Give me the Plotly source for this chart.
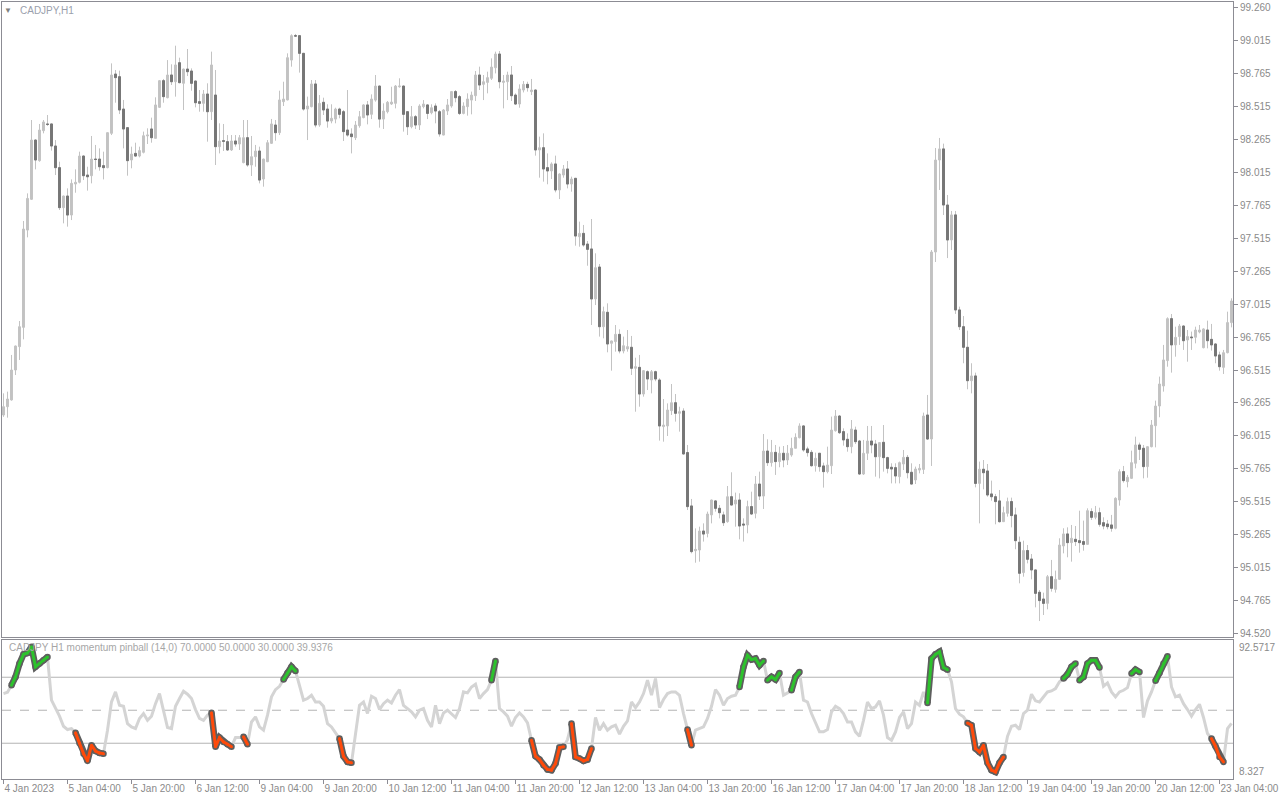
import pandas as pd
import plotly.graph_objects as go

# ---------------- time axis (H1 forex bars, weekends closed) ----------------
all_hours = pd.date_range("2023-01-04 12:00", "2023-01-23 07:00", freq="h")
bar_times = [t for t in all_hours if t.weekday() < 5]
categories = [t.strftime("%Y-%m-%d %H:%M") for t in bar_times]

tick_labels = ["4 Jan 2023", "5 Jan 04:00", "5 Jan 20:00", "6 Jan 12:00", "9 Jan 04:00",
               "9 Jan 20:00", "10 Jan 12:00", "11 Jan 04:00", "11 Jan 20:00", "12 Jan 12:00",
               "13 Jan 04:00", "13 Jan 20:00", "16 Jan 12:00", "17 Jan 04:00", "17 Jan 20:00",
               "18 Jan 12:00", "19 Jan 04:00", "19 Jan 20:00", "20 Jan 12:00", "23 Jan 04:00"]
tick_categories = categories[::16][:len(tick_labels)]

price_ticks = [99.260, 99.015, 98.765, 98.515, 98.265, 98.015, 97.765, 97.515, 97.265, 97.015,
               96.765, 96.515, 96.265, 96.015, 95.765, 95.515, 95.265, 95.015, 94.765, 94.520]

# ---------------- CADJPY H1 OHLC ----------------
open_ = [
 96.174, 96.237, 96.288, 96.515, 96.692, 96.838, 97.575, 97.808, 98.257, 98.101,
 98.328, 98.379, 98.379, 98.212, 98.048, 97.745, 97.833, 97.689, 97.924, 97.937,
 98.136, 97.992, 97.987, 98.113, 98.113, 98.063, 98.048, 98.308, 98.757, 98.737,
 98.492, 98.351, 98.106, 98.156, 98.136, 98.164, 98.288, 98.341, 98.270, 98.505,
 98.707, 98.578, 98.750, 98.699, 98.843, 98.687, 98.795, 98.780, 98.704, 98.548,
 98.535, 98.606, 98.472, 98.598, 98.207, 98.252, 98.245, 98.182, 98.250, 98.227,
 98.086, 98.275, 98.068, 98.131, 98.174, 97.962, 98.093, 98.232, 98.371, 98.313,
 98.548, 98.561, 98.863, 99.048, 99.048, 98.914, 98.492, 98.510, 98.682, 98.371,
 98.543, 98.492, 98.401, 98.416, 98.492, 98.472, 98.333, 98.303, 98.275, 98.366,
 98.427, 98.523, 98.452, 98.560, 98.666, 98.416, 98.472, 98.530, 98.535, 98.661,
 98.666, 98.472, 98.358, 98.434, 98.371, 98.510, 98.523, 98.464, 98.515, 98.472,
 98.295, 98.477, 98.515, 98.624, 98.586, 98.459, 98.510, 98.560, 98.593, 98.750,
 98.679, 98.694, 98.725, 98.805, 98.909, 98.694, 98.699, 98.750, 98.598, 98.530,
 98.636, 98.679, 98.624, 98.636, 98.182, 98.199, 98.048, 98.023, 98.076, 97.879,
 97.992, 98.038, 97.924, 97.967, 97.525, 97.550, 97.469, 97.432, 97.053, 97.295,
 96.843, 96.952, 96.717, 96.730, 96.785, 96.659, 96.674, 96.687, 96.528, 96.535,
 96.333, 96.502, 96.439, 96.502, 96.439, 96.086, 96.091, 96.207, 96.267, 96.187,
 96.204, 95.889, 95.485, 95.146, 95.151, 95.295, 95.277, 95.417, 95.523, 95.467,
 95.417, 95.366, 95.555, 95.500, 95.530, 95.348, 95.341, 95.480, 95.429, 95.651,
 95.560, 95.901, 95.813, 95.891, 95.821, 95.884, 95.833, 95.871, 95.922, 96.002,
 96.091, 95.917, 95.891, 95.790, 95.884, 95.788, 95.745, 95.790, 96.055, 96.166,
 96.048, 95.990, 95.934, 96.060, 95.977, 95.727, 95.884, 95.977, 95.954, 95.858,
 95.967, 95.851, 95.778, 95.775, 95.707, 95.803, 95.853, 95.740, 95.682, 95.757,
 95.762, 96.174, 95.992, 97.409, 98.106, 98.190, 97.765, 97.500, 97.690, 96.970,
 96.843, 96.687, 96.434, 96.470, 95.656, 95.763, 95.750, 95.576, 95.555, 95.523,
 95.366, 95.429, 95.518, 95.417, 95.210, 94.980, 95.147, 95.083, 95.000, 94.831,
 94.780, 94.747, 94.949, 94.853, 94.929, 95.182, 95.273, 95.207, 95.232, 95.222,
 95.215, 95.194, 95.442, 95.399, 95.434, 95.358, 95.348, 95.341, 95.316, 95.530,
 95.745, 95.669, 95.694, 95.808, 95.947, 95.922, 95.783, 95.934, 96.093, 96.242,
 96.394, 96.586, 96.904, 96.705, 96.768, 96.848, 96.742, 96.765, 96.763, 96.803,
 96.684, 96.818, 96.747, 96.712, 96.629, 96.535, 96.646, 96.874]

high = [
 96.338, 96.351, 96.629, 96.700, 96.886, 97.644, 97.853, 98.409, 98.262, 98.379,
 98.409, 98.447, 98.382, 98.257, 98.093, 97.836, 97.891, 97.959, 98.035, 98.169,
 98.140, 98.055, 98.288, 98.220, 98.194, 98.169, 98.316, 98.838, 98.788, 98.783,
 98.561, 98.354, 98.207, 98.237, 98.207, 98.321, 98.346, 98.427, 98.581, 98.712,
 98.720, 98.863, 98.831, 98.972, 98.881, 98.798, 98.947, 98.800, 98.707, 98.636,
 98.636, 98.687, 98.927, 98.788, 98.384, 98.379, 98.295, 98.295, 98.295, 98.295,
 98.409, 98.409, 98.288, 98.220, 98.207, 98.116, 98.257, 98.417, 98.409, 98.631,
 98.699, 98.914, 99.058, 99.061, 99.050, 98.917, 98.586, 98.712, 98.712, 98.598,
 98.578, 98.528, 98.528, 98.502, 98.502, 98.485, 98.636, 98.346, 98.401, 98.477,
 98.528, 98.553, 98.603, 98.750, 98.670, 98.535, 98.553, 98.661, 98.674, 98.725,
 98.670, 98.475, 98.515, 98.447, 98.528, 98.560, 98.528, 98.528, 98.535, 98.485,
 98.492, 98.568, 98.629, 98.636, 98.598, 98.543, 98.611, 98.624, 98.780, 98.813,
 98.750, 98.775, 98.876, 98.927, 98.932, 98.750, 98.775, 98.818, 98.611, 98.679,
 98.704, 98.699, 98.720, 98.640, 98.283, 98.308, 98.156, 98.088, 98.139, 98.005,
 98.068, 98.098, 97.980, 97.970, 97.639, 97.614, 97.492, 97.659, 97.399, 97.318,
 96.995, 97.020, 96.738, 96.856, 96.823, 96.768, 96.818, 96.773, 96.608, 96.629,
 96.515, 96.512, 96.515, 96.510, 96.452, 96.295, 96.262, 96.409, 96.333, 96.237,
 96.225, 95.947, 95.538, 95.315, 95.328, 95.353, 95.442, 95.533, 95.530, 95.492,
 95.442, 95.636, 95.740, 95.586, 95.581, 95.391, 95.525, 95.593, 95.712, 95.745,
 96.030, 95.990, 95.985, 95.947, 95.934, 95.939, 95.947, 96.002, 96.035, 96.111,
 96.098, 95.934, 95.909, 95.889, 95.886, 95.813, 95.934, 96.162, 96.212, 96.174,
 96.073, 96.035, 96.136, 96.086, 95.985, 95.985, 96.091, 96.091, 95.985, 95.967,
 96.098, 95.858, 95.808, 95.808, 95.821, 95.909, 95.871, 95.808, 95.783, 95.803,
 96.192, 96.326, 97.424, 98.197, 98.273, 98.230, 97.841, 97.720, 97.720, 96.995,
 96.924, 96.813, 96.566, 96.495, 95.821, 95.833, 95.803, 95.677, 95.576, 95.606,
 95.480, 95.548, 95.548, 95.472, 95.253, 95.222, 95.189, 95.121, 95.003, 94.848,
 94.828, 94.962, 95.076, 94.995, 95.240, 95.316, 95.323, 95.341, 95.333, 95.449,
 95.374, 95.467, 95.467, 95.485, 95.472, 95.399, 95.379, 95.417, 95.550, 95.763,
 95.788, 95.720, 95.904, 96.010, 95.965, 95.947, 95.937, 96.136, 96.283, 96.465,
 96.705, 96.914, 96.939, 96.843, 96.863, 96.853, 96.818, 96.806, 96.843, 96.856,
 96.831, 96.889, 96.864, 96.717, 96.654, 96.667, 96.957, 97.058]

low = [
 96.160, 96.154, 96.283, 96.477, 96.591, 96.747, 97.520, 97.803, 98.035, 98.093,
 98.308, 98.364, 98.177, 97.992, 97.727, 97.626, 97.601, 97.651, 97.858, 97.929,
 97.954, 97.874, 97.929, 98.035, 98.025, 97.959, 98.043, 98.295, 98.540, 98.454,
 98.194, 97.987, 98.043, 98.131, 98.126, 98.156, 98.227, 98.237, 98.268, 98.500,
 98.540, 98.573, 98.674, 98.586, 98.687, 98.485, 98.742, 98.631, 98.505, 98.472,
 98.472, 98.245, 98.409, 98.068, 98.156, 98.174, 98.174, 98.174, 98.207, 98.182,
 98.081, 98.055, 97.985, 98.055, 97.929, 97.904, 98.090, 98.227, 98.252, 98.295,
 98.515, 98.558, 98.813, 99.040, 98.768, 98.480, 98.257, 98.505, 98.353, 98.358,
 98.447, 98.351, 98.384, 98.384, 98.422, 98.250, 98.283, 98.156, 98.257, 98.351,
 98.422, 98.376, 98.416, 98.548, 98.351, 98.341, 98.459, 98.523, 98.497, 98.654,
 98.321, 98.295, 98.346, 98.341, 98.333, 98.497, 98.416, 98.452, 98.384, 98.283,
 98.293, 98.447, 98.502, 98.543, 98.447, 98.452, 98.442, 98.452, 98.553, 98.636,
 98.560, 98.611, 98.712, 98.762, 98.649, 98.497, 98.560, 98.553, 98.523, 98.502,
 98.618, 98.624, 98.598, 98.139, 97.972, 97.942, 97.922, 97.962, 97.861, 97.810,
 97.972, 97.891, 97.866, 97.457, 97.449, 97.449, 97.305, 96.856, 97.007, 96.768,
 96.755, 96.649, 96.510, 96.654, 96.641, 96.641, 96.654, 96.477, 96.199, 96.237,
 96.313, 96.363, 96.338, 96.430, 95.980, 95.972, 96.015, 96.174, 96.124, 96.048,
 95.874, 95.454, 95.126, 95.055, 95.063, 95.215, 95.247, 95.353, 95.442, 95.391,
 95.333, 95.358, 95.490, 95.328, 95.232, 95.215, 95.278, 95.417, 95.391, 95.530,
 95.462, 95.788, 95.783, 95.720, 95.778, 95.778, 95.795, 95.858, 95.920, 95.997,
 95.896, 95.859, 95.783, 95.745, 95.745, 95.624, 95.732, 95.727, 96.048, 96.030,
 95.942, 95.896, 95.884, 95.954, 95.720, 95.720, 95.833, 95.884, 95.707, 95.694,
 95.745, 95.732, 95.656, 95.656, 95.656, 95.757, 95.694, 95.648, 95.651, 95.732,
 95.727, 95.985, 95.788, 97.333, 97.879, 97.689, 97.363, 97.424, 96.940, 96.818,
 96.566, 96.369, 96.338, 95.626, 95.353, 95.611, 95.555, 95.525, 95.346, 95.359,
 95.363, 95.404, 95.323, 95.157, 94.899, 94.949, 95.050, 94.929, 94.717, 94.613,
 94.659, 94.702, 94.836, 94.828, 94.924, 95.126, 95.096, 95.063, 95.182, 95.131,
 95.146, 95.189, 95.379, 95.384, 95.328, 95.308, 95.308, 95.290, 95.308, 95.487,
 95.662, 95.626, 95.689, 95.770, 95.833, 95.694, 95.699, 95.929, 95.929, 96.157,
 96.351, 96.540, 96.495, 96.616, 96.705, 96.667, 96.578, 96.667, 96.717, 96.793,
 96.679, 96.679, 96.662, 96.566, 96.510, 96.485, 96.641, 96.838]

close = [
 96.237, 96.295, 96.515, 96.697, 96.843, 97.583, 97.815, 98.257, 98.106, 98.333,
 98.394, 98.375, 98.212, 98.048, 97.745, 97.833, 97.689, 97.929, 97.937, 98.136,
 97.987, 97.979, 98.113, 98.110, 98.055, 98.048, 98.313, 98.750, 98.730, 98.485,
 98.341, 98.101, 98.151, 98.136, 98.177, 98.290, 98.295, 98.275, 98.523, 98.707,
 98.586, 98.750, 98.699, 98.826, 98.692, 98.795, 98.775, 98.687, 98.540, 98.535,
 98.606, 98.472, 98.826, 98.207, 98.250, 98.248, 98.182, 98.250, 98.227, 98.275,
 98.275, 98.068, 98.131, 98.174, 97.954, 98.113, 98.237, 98.379, 98.313, 98.561,
 98.568, 98.881, 99.048, 99.045, 98.914, 98.492, 98.515, 98.682, 98.371, 98.535,
 98.485, 98.401, 98.422, 98.492, 98.452, 98.321, 98.295, 98.283, 98.371, 98.434,
 98.523, 98.447, 98.568, 98.666, 98.416, 98.477, 98.543, 98.545, 98.666, 98.666,
 98.452, 98.358, 98.434, 98.371, 98.515, 98.530, 98.459, 98.502, 98.477, 98.303,
 98.485, 98.523, 98.624, 98.578, 98.459, 98.515, 98.568, 98.598, 98.750, 98.674,
 98.699, 98.730, 98.810, 98.909, 98.699, 98.704, 98.750, 98.593, 98.530, 98.644,
 98.679, 98.654, 98.636, 98.182, 98.199, 98.038, 98.023, 98.076, 97.879, 98.000,
 98.038, 97.924, 97.962, 97.530, 97.550, 97.462, 97.429, 97.053, 97.290, 96.843,
 96.957, 96.712, 96.735, 96.785, 96.659, 96.699, 96.692, 96.528, 96.540, 96.333,
 96.510, 96.447, 96.502, 96.447, 96.091, 96.098, 96.212, 96.267, 96.187, 96.199,
 95.879, 95.480, 95.139, 95.156, 95.295, 95.272, 95.424, 95.530, 95.467, 95.434,
 95.358, 95.555, 95.492, 95.530, 95.333, 95.341, 95.480, 95.424, 95.651, 95.560,
 95.901, 95.813, 95.891, 95.821, 95.884, 95.833, 95.884, 95.922, 96.005, 96.091,
 95.909, 95.889, 95.790, 95.846, 95.783, 95.745, 95.795, 96.060, 96.166, 96.040,
 95.985, 95.934, 96.068, 95.972, 95.727, 95.884, 95.977, 95.947, 95.858, 95.965,
 95.851, 95.770, 95.765, 95.712, 95.813, 95.853, 95.737, 95.651, 95.765, 95.770,
 96.166, 95.992, 97.409, 98.106, 98.190, 97.765, 97.500, 97.690, 96.970, 96.843,
 96.687, 96.434, 96.470, 95.656, 95.763, 95.737, 95.568, 95.555, 95.518, 95.366,
 95.434, 95.518, 95.412, 95.222, 94.975, 95.147, 95.081, 95.000, 94.823, 94.768,
 94.747, 94.949, 94.861, 94.929, 95.189, 95.273, 95.207, 95.240, 95.215, 95.207,
 95.194, 95.449, 95.399, 95.434, 95.346, 95.333, 95.328, 95.316, 95.543, 95.745,
 95.677, 95.702, 95.813, 95.947, 95.914, 95.783, 95.934, 96.098, 96.242, 96.409,
 96.591, 96.904, 96.705, 96.762, 96.848, 96.737, 96.768, 96.760, 96.818, 96.818,
 96.826, 96.737, 96.705, 96.621, 96.540, 96.646, 96.874, 97.038]

# ---------------- momentum pinball (14) ----------------
momentum = [
 60.1, 60.9, 65.2, 70.2, 78.3, 83.9, 84.7, 88.4, 76.3, 78.3,
 80.3, 82.3, 56.1, 51.6, 46.4, 40.3, 38.3, 38.9, 36.3, 30.2,
 23.7, 19.3, 28.8, 25.3, 24.1, 23.7, 37.9, 55.1, 61.1, 53.0,
 52.4, 41.9, 39.9, 38.9, 45.0, 48.0, 43.9, 46.4, 54.0, 60.1,
 50.0, 39.5, 38.9, 52.4, 57.1, 61.5, 59.7, 57.1, 50.4, 45.0,
 43.9, 47.0, 48.4, 27.8, 33.4, 30.8, 29.4, 27.8, 33.4, 33.4,
 33.9, 29.4, 42.9, 46.0, 39.9, 37.9, 47.0, 58.1, 62.5, 64.5,
 68.6, 72.6, 76.3, 73.8, 65.1, 56.1, 57.1, 59.1, 55.0, 55.0,
 52.4, 41.9, 39.9, 36.3, 32.8, 22.1, 18.7, 18.1, 34.8, 53.0,
 55.0, 48.0, 58.5, 57.1, 50.4, 54.0, 56.1, 54.4, 59.1, 62.5,
 53.0, 51.0, 49.0, 46.0, 50.0, 51.0, 43.9, 39.9, 53.0, 41.9,
 48.4, 50.0, 48.0, 45.6, 51.0, 61.1, 60.5, 64.1, 65.8, 57.1,
 60.1, 62.5, 68.2, 79.9, 51.0, 49.0, 46.4, 40.3, 45.6, 48.4,
 46.0, 42.3, 31.8, 22.1, 20.1, 16.7, 14.1, 13.7, 17.7, 27.4,
 27.8, 32.2, 41.9, 21.7, 20.7, 19.3, 20.1, 26.8, 45.6, 37.9,
 41.9, 37.9, 39.9, 40.9, 35.5, 40.3, 43.5, 55.0, 51.6, 55.0,
 60.1, 68.2, 59.1, 69.2, 51.6, 56.5, 60.1, 61.1, 61.1, 59.1,
 48.0, 38.3, 28.8, 37.9, 38.7, 39.9, 45.0, 52.4, 62.5, 59.1,
 53.0, 57.1, 58.5, 59.1, 64.1, 76.3, 83.3, 80.7, 81.3, 77.3,
 79.9, 68.2, 70.2, 68.6, 72.6, 59.1, 60.5, 62.1, 70.2, 73.2,
 56.1, 55.0, 48.0, 41.9, 36.9, 36.9, 38.3, 49.0, 52.4, 51.0,
 48.0, 42.9, 42.9, 36.9, 34.2, 43.9, 55.0, 51.0, 52.0, 55.7,
 47.0, 33.4, 31.8, 36.9, 45.6, 49.0, 38.9, 41.9, 55.0, 53.0,
 61.1, 54.4, 81.3, 83.9, 85.4, 75.9, 74.6, 67.2, 51.0, 47.6,
 46.0, 42.3, 40.9, 26.8, 24.7, 28.8, 18.1, 13.7, 12.6, 18.1,
 21.7, 34.2, 40.3, 40.9, 38.3, 48.0, 50.0, 59.7, 55.7, 55.0,
 58.1, 61.1, 61.7, 63.1, 67.2, 69.2, 71.8, 76.3, 78.3, 68.2,
 70.2, 78.3, 80.3, 80.3, 75.9, 64.5, 66.6, 61.1, 58.1, 61.1,
 62.1, 63.7, 72.2, 74.6, 73.2, 45.6, 55.7, 61.1, 67.8, 72.6,
 78.3, 82.7, 64.1, 58.1, 59.1, 54.0, 50.4, 46.4, 50.4, 53.6,
 45.6, 35.9, 32.8, 28.2, 21.7, 18.7, 38.9, 42.0]

# bar ranges (inclusive) where the pinball line is highlighted
green_ranges = [(2, 11), (70, 73), (122, 123), (184, 190), (191, 194), (197, 199),
                (231, 236), (265, 268), (269, 274), (282, 284), (288, 291)]
red_ranges = [(18, 25), (52, 57), (60, 61), (84, 87), (132, 140), (142, 147),
              (171, 172), (241, 250), (302, 305)]
levels = [70, 50, 30]
ind_min, ind_max = 8.327, 92.5717

# ---------------- styling ----------------
FONT = "Liberation Sans"
TXT = "#8a8a8a"
FRAME = "#8c8c94"
BULL = "#c3c3c3"
BEAR = "#777777"
FS = 10

n = len(categories)


def segments(ranges):
    xs, ys = [], []
    for a, b in ranges:
        xs += categories[a:b + 1] + [None]
        ys += momentum[a:b + 1] + [None]
    return xs, ys


fig = go.Figure()

# candles: wicks + bull bodies (all light)
fig.add_trace(go.Candlestick(
    x=categories, open=open_, high=high, low=low, close=close,
    xaxis="x2", yaxis="y2",
    increasing=dict(line=dict(color=BULL, width=1), fillcolor=BULL),
    decreasing=dict(line=dict(color=BULL, width=1), fillcolor=BULL),
    whiskerwidth=0, hoverinfo="skip", showlegend=False))

# bear bodies in dark gray (body only, no wick)
b_open = [o if c < o else None for o, c in zip(open_, close)]
b_close = [c if c < o else None for o, c in zip(open_, close)]
fig.add_trace(go.Candlestick(
    x=categories, open=b_open, high=b_open, low=b_close, close=b_close,
    xaxis="x2", yaxis="y2",
    increasing=dict(line=dict(color=BEAR, width=1), fillcolor=BEAR),
    decreasing=dict(line=dict(color=BEAR, width=1), fillcolor=BEAR),
    whiskerwidth=0, hoverinfo="skip", showlegend=False))

# indicator base line
fig.add_trace(go.Scatter(x=categories, y=momentum, mode="lines",
                         line=dict(color="#d4d4d4", width=3),
                         hoverinfo="skip", showlegend=False))
for ranges, col in ((green_ranges, "#2dc22d"), (red_ranges, "#ff4a0a")):
    sx, sy = segments(ranges)
    fig.add_trace(go.Scatter(x=sx, y=sy, mode="lines+markers",
                             line=dict(color="#5e5e5e", width=6.5),
                             marker=dict(color="#5e5e5e", size=6.5, line=dict(width=0)),
                             hoverinfo="skip", showlegend=False, connectgaps=False))
    fig.add_trace(go.Scatter(x=sx, y=sy, mode="lines+markers",
                             line=dict(color=col, width=3),
                             marker=dict(color=col, size=3, line=dict(width=0)),
                             hoverinfo="skip", showlegend=False, connectgaps=False))

shapes = []
for lv in levels:
    shapes.append(dict(type="line", xref="paper", x0=0, x1=1, yref="y", y0=lv, y1=lv,
                       line=dict(color="#b4b4b4", width=1, dash="dash" if lv == 50 else "solid"),
                       layer="below"))

axis_common = dict(showgrid=False, zeroline=False, showline=True, linecolor=FRAME,
                   linewidth=1, mirror=True, automargin=False)

fig.update_layout(
    width=1280, height=800,
    margin=dict(l=2, r=47, t=2, b=21),
    paper_bgcolor="white", plot_bgcolor="white",
    font=dict(family=FONT, size=FS, color=TXT),
    showlegend=False,
    xaxis=dict(**axis_common, type="category", anchor="y", domain=[0, 1],
               range=[-0.375, n - 0.625], rangeslider=dict(visible=False),
               tickmode="array", tickvals=tick_categories, ticktext=tick_labels,
               ticks="outside", ticklen=4, tickcolor=FRAME, tickangle=0,
               ticklabelposition="outside right", tickfont=dict(size=FS, color=TXT)),
    xaxis2=dict(**axis_common, type="category", anchor="y2", matches="x",
                showticklabels=False, ticks="", rangeslider=dict(visible=False)),
    yaxis=dict(**axis_common, domain=[0, 0.1789], range=[ind_min, ind_max], side="right",
               showticklabels=False, ticks=""),
    yaxis2=dict(**axis_common, domain=[0.1828, 1], range=[94.4924, 99.303], side="right",
                tickmode="array", tickvals=price_ticks,
                ticktext=[f"{v:.3f}" for v in price_ticks],
                ticks="outside", ticklen=4, tickcolor=FRAME,
                tickfont=dict(size=FS, color=TXT)),
    shapes=shapes,
    annotations=[
        dict(text="▼", xref="paper", yref="paper", x=0.0049, y=0.9897, xanchor="center",
             yanchor="middle", showarrow=False, font=dict(size=8, color="#808080")),
        dict(text="CADJPY,H1", xref="paper", yref="paper", x=0.013, y=0.9897, xanchor="left",
             yanchor="middle", showarrow=False, font=dict(size=FS, color="#9aa0ac")),
        dict(text="CADJPY H1 momentum pinball (14,0) 70.0000 50.0000 30.0000 39.9376",
             xref="paper", yref="paper", x=0.004, y=0.1686, xanchor="left", yanchor="middle",
             showarrow=False, font=dict(size=FS, color="#a6a6a6")),
        dict(text=f"{ind_max:.4f}", xref="paper", yref="y", x=1, y=ind_max, xanchor="left",
             yanchor="top", xshift=4, showarrow=False, font=dict(size=FS, color=TXT)),
        dict(text=f"{ind_min:.3f}", xref="paper", yref="y", x=1, y=ind_min, xanchor="left",
             yanchor="bottom", xshift=4, showarrow=False, font=dict(size=FS, color=TXT)),
    ],
)

fig.write_html("out.html", config={"displayModeBar": False},
               post_script="document.body.style.margin='0';document.body.style.overflow='hidden';")
